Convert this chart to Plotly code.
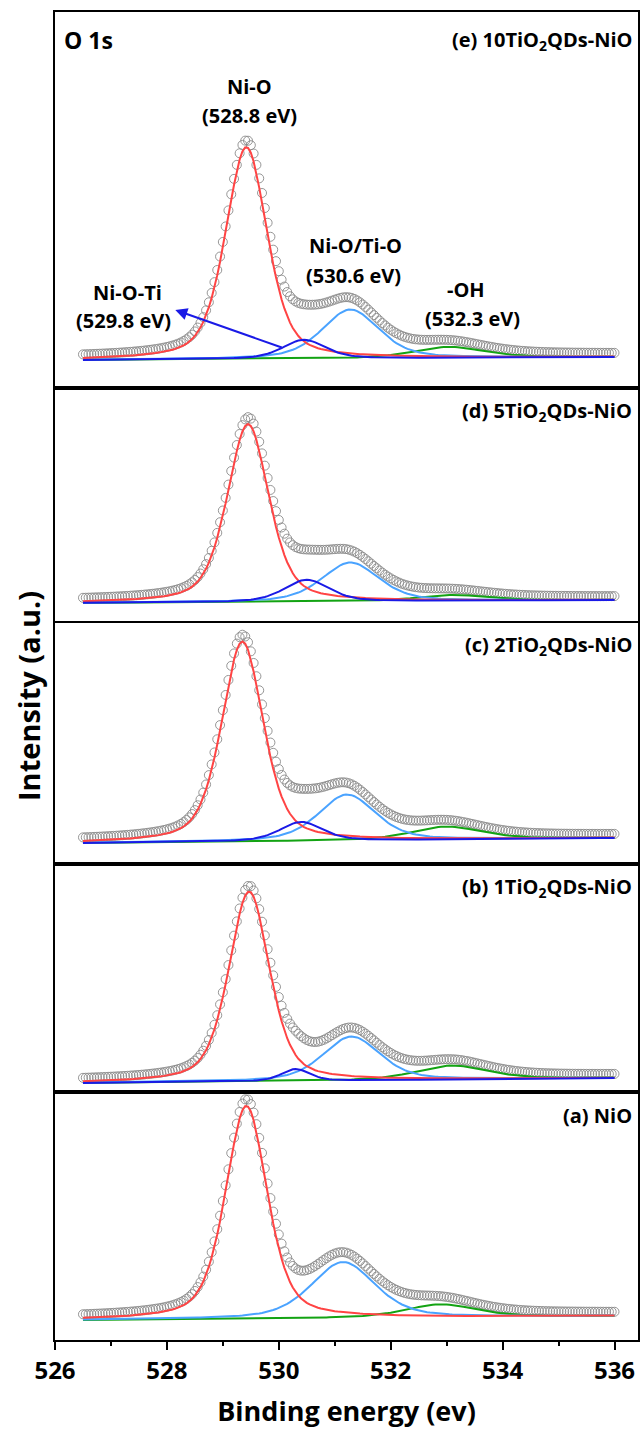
import numpy as np
import plotly.graph_objects as go
from plotly.subplots import make_subplots

# ---------------- data ----------------
energy_start, energy_stop, energy_step = 526.5, 536.0, 0.05

panel_titles = ["(e) 10TiO<sub>2</sub>QDs-NiO", "(d) 5TiO<sub>2</sub>QDs-NiO",
                "(c) 2TiO<sub>2</sub>QDs-NiO", "(b) 1TiO<sub>2</sub>QDs-NiO", "(a) NiO"]

# background (a.u.) at low / high binding energy end
bg_low = [28, 20, 21, 9, 20]
bg_high = [31, 23, 26, 14, 24]

# fitted components: centre (eV), height (a.u.), FWHM (eV)
nio_center = [529.42, 529.45, 529.35, 529.47, 529.42]
nio_height = [212, 178, 200, 190, 213]
nio_fwhm = [0.88, 0.88, 0.88, 0.86, 0.88]

tio_center = [531.28, 531.28, 531.22, 531.30, 531.15]
tio_height = [49, 39, 46, 44, 56]
tio_fwhm = [1.2, 1.2, 1.2, 1.2, 1.35]

niti_center = [530.45, 530.50, 530.40, 530.30, None]
niti_height = [19, 22, 19, 12, None]
niti_fwhm = [0.9, 0.95, 0.9, 0.6, None]

oh_center = [533.05, 533.1, 533.0, 533.1, 532.9]
oh_height = [11, 6, 13, 14, 13]
oh_fwhm = [1.5, 1.5, 1.5, 1.5, 1.5]

lorentz_fraction = 0.45

panel_heights = [376, 235, 241, 228, 248]

# ---------------- helpers ----------------
x = np.round(np.arange(energy_start, energy_stop + 1e-9, energy_step), 3)


def pv(xx, c, h, w):
    g = np.exp(-4 * np.log(2) * ((xx - c) / w) ** 2)
    l = 1.0 / (1.0 + (2 * (xx - c) / w) ** 2)
    return h * ((1 - lorentz_fraction) * g + lorentz_fraction * l)


RED = "#ff4444"
LBLUE = "#4aa3ff"
BLUE = "#1a1ae6"
GREEN = "#13a313"
FONT = "Open Sans"

fig = make_subplots(rows=5, cols=1, shared_xaxes=True, vertical_spacing=0,
                    row_heights=panel_heights)

for i in range(5):
    row = i + 1
    bg = bg_low[i] + (bg_high[i] - bg_low[i]) * (x - x[0]) / (x[-1] - x[0])
    red = pv(x, nio_center[i], nio_height[i], nio_fwhm[i])
    lb = pv(x, tio_center[i], tio_height[i], tio_fwhm[i])
    gr = pv(x, oh_center[i], oh_height[i], oh_fwhm[i])
    if niti_center[i] is not None:
        bl = pv(x, niti_center[i], niti_height[i], niti_fwhm[i])
    else:
        bl = np.zeros_like(x)
    env = red + lb + gr + bl + bg + 3

    fig.add_trace(go.Scatter(x=x, y=env, mode="markers",
                             marker=dict(symbol="circle-open", size=9,
                                         color="#8a8a8a", line=dict(width=0.9)),
                             showlegend=False), row=row, col=1)
    fig.add_trace(go.Scatter(x=x, y=gr + bg, mode="lines",
                             line=dict(color=GREEN, width=2), showlegend=False), row=row, col=1)
    fig.add_trace(go.Scatter(x=x, y=lb + bg, mode="lines",
                             line=dict(color=LBLUE, width=2), showlegend=False), row=row, col=1)
    fig.add_trace(go.Scatter(x=x, y=red + bg, mode="lines",
                             line=dict(color=RED, width=2), showlegend=False), row=row, col=1)
    if niti_center[i] is not None:
        fig.add_trace(go.Scatter(x=x, y=bl + bg, mode="lines",
                                 line=dict(color=BLUE, width=2), showlegend=False), row=row, col=1)

    fig.update_yaxes(range=[0, panel_heights[i]], showticklabels=False, ticks="",
                     showgrid=False, zeroline=False, showline=True, mirror=True,
                     linecolor="black", linewidth=2, row=row, col=1)
    fig.update_xaxes(range=[526, 536.42], showgrid=False, zeroline=False,
                     showline=True, mirror=True, linecolor="black", linewidth=2,
                     row=row, col=1)
    suffix = "" if row == 1 else str(row)
    fig.add_annotation(x=536.34, y=panel_heights[i] - (28 if i == 0 else 23),
                       xref="x" + suffix, yref="y" + suffix,
                       text=f"<b>{panel_titles[i]}</b>", showarrow=False,
                       xanchor="right", yanchor="middle",
                       font=dict(size=20, color="black", family=FONT))

for row in range(1, 5):
    fig.update_xaxes(showticklabels=False, ticks="", row=row, col=1)

fig.update_xaxes(ticks="outside", tickvals=list(range(526, 537, 2)), ticklen=8, tickwidth=2,
                 tickcolor="black",
                 minor=dict(tickvals=list(range(527, 537, 2)), ticks="outside", ticklen=4,
                            tickwidth=2, tickcolor="black"),
                 tickfont=dict(size=24, color="black", family=FONT, weight="bold"),
                 title=dict(text="<b>Binding energy (ev)</b>", standoff=20,
                            font=dict(size=27, color="black", family=FONT)),
                 row=5, col=1)

# panel (e) labels
txt = dict(showarrow=False, xref="x", yref="y",
           font=dict(size=20, color="black", family=FONT))
fig.add_annotation(x=526.12, y=348, text="<b>O 1s</b>", xanchor="left",
                   showarrow=False, xref="x", yref="y",
                   font=dict(size=23, color="black", family=FONT))
fig.add_annotation(x=529.47, y=302, text="<b>Ni-O</b>", **txt)
fig.add_annotation(x=529.47, y=273, text="<b>(528.8 eV)</b>", **txt)
fig.add_annotation(x=531.37, y=143, text="<b>Ni-O/Ti-O</b>", **txt)
fig.add_annotation(x=531.34, y=113, text="<b>(530.6 eV)</b>", **txt)
fig.add_annotation(x=533.35, y=99, text="<b>-OH</b>", **txt)
fig.add_annotation(x=533.46, y=70, text="<b>(532.3 eV)</b>", **txt)
fig.add_annotation(x=527.3, y=96, text="<b>Ni-O-Ti</b>", **txt)
fig.add_annotation(x=527.22, y=68, text="<b>(529.8 eV)</b>", **txt)
fig.add_annotation(x=528.15, y=78, ax=530.08, ay=40, xref="x", yref="y",
                   axref="x", ayref="y", text="", showarrow=True,
                   arrowhead=2, arrowsize=1.2, arrowwidth=2, arrowcolor=BLUE)

fig.add_annotation(x=0.0, y=0.5, xref="paper", yref="paper", xanchor="center",
                   yanchor="middle", xshift=-27, yshift=-20,
                   text="<b>Intensity (a.u.)</b>", textangle=-90, showarrow=False,
                   font=dict(size=29, color="black", family=FONT))

fig.update_layout(width=644, height=1429, margin=dict(l=55, r=4, t=12, b=89),
                  plot_bgcolor="white", paper_bgcolor="white")

fig.write_html("out.html", config={"displayModeBar": False},
               post_script="document.body.style.margin='0';document.body.style.overflow='hidden';")
